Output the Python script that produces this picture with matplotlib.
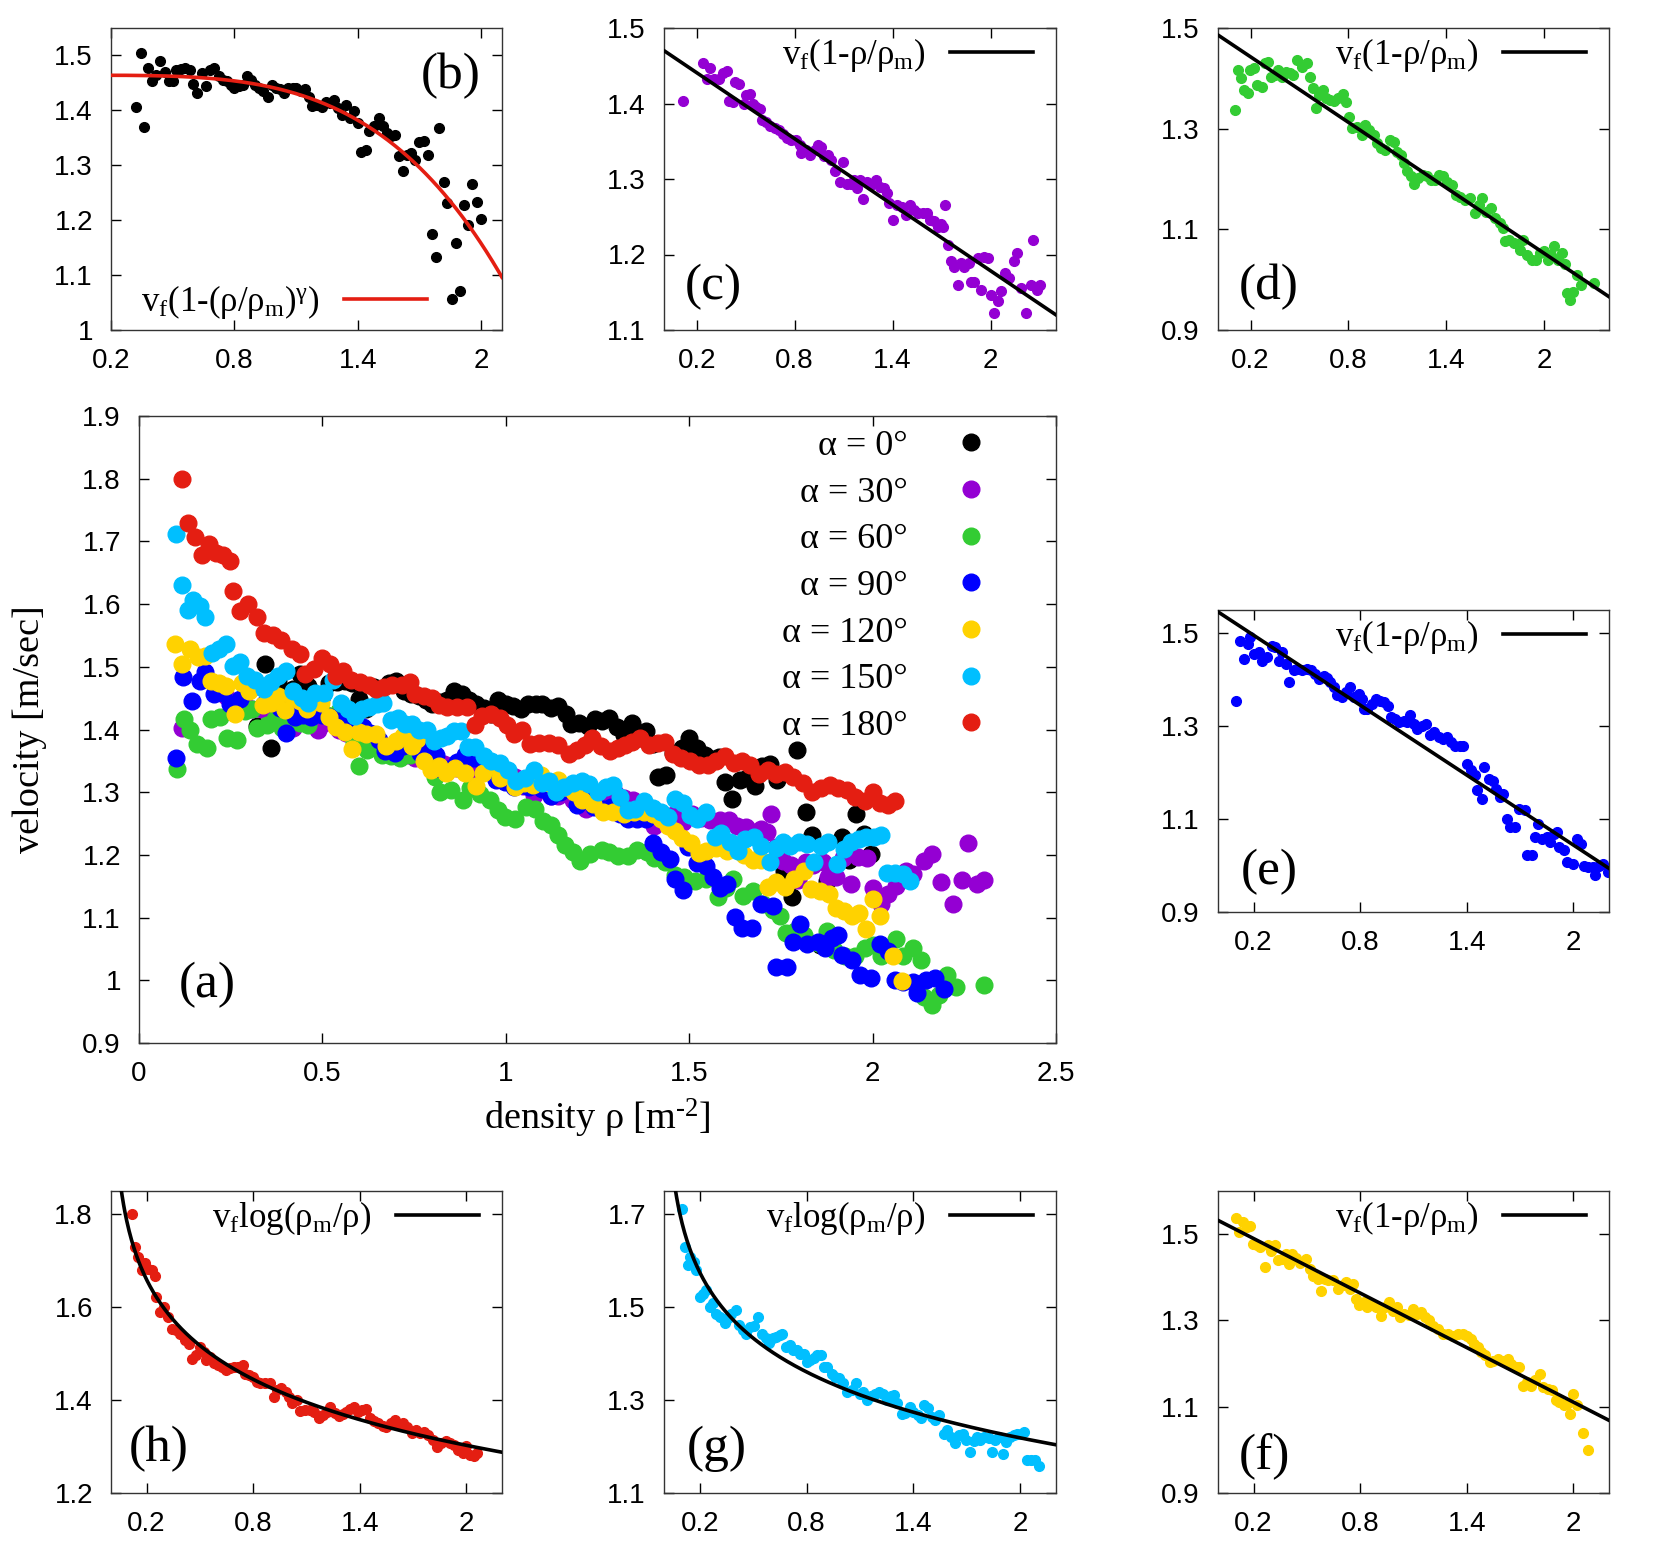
import numpy as np
import matplotlib
matplotlib.use("Agg")
import matplotlib.pyplot as plt
from matplotlib.ticker import FuncFormatter

plt.rcParams['font.family'] = ['Liberation Sans', 'DejaVu Sans']
plt.rcParams['mathtext.fontset'] = 'custom'
plt.rcParams['mathtext.rm'] = 'Liberation Serif'
plt.rcParams['mathtext.it'] = 'Liberation Serif:italic'

# ---- data: density [m^-2] and velocity [m/s] for each angle ----
rho_0 = [0.323, 0.344, 0.36, 0.379, 0.40, 0.419, 0.44, 0.46, 0.48, 0.50, 0.518, 0.54, 0.561, 0.582, 0.60,
         0.62, 0.642, 0.661, 0.682, 0.70, 0.723, 0.742, 0.763, 0.782, 0.80, 0.82, 0.84, 0.86, 0.88, 0.90,
         0.92, 0.94, 0.961, 0.98, 1.00, 1.02, 1.042, 1.061, 1.082, 1.10, 1.122, 1.142, 1.163, 1.179, 1.20,
         1.223, 1.244, 1.263, 1.282, 1.303, 1.323, 1.344, 1.36, 1.381, 1.40, 1.416, 1.437, 1.456, 1.48, 1.50,
         1.521, 1.542, 1.561, 1.582, 1.598, 1.618, 1.639, 1.658, 1.679, 1.698, 1.719, 1.739, 1.758, 1.779,
         1.795, 1.819, 1.835, 1.856, 1.876, 1.897, 1.916, 1.937, 1.956, 1.977, 1.997]
v_0 = [1.406, 1.504, 1.370, 1.477, 1.453, 1.465, 1.489, 1.469, 1.453, 1.453, 1.474, 1.475, 1.478, 1.474, 1.448,
       1.432, 1.468, 1.445, 1.474, 1.477, 1.462, 1.456, 1.453, 1.447, 1.441, 1.444, 1.447, 1.462, 1.456, 1.447,
       1.441, 1.435, 1.424, 1.447, 1.441, 1.438, 1.432, 1.441, 1.441, 1.441, 1.435, 1.438, 1.425, 1.408, 1.410,
       1.406, 1.416, 1.413, 1.419, 1.404, 1.392, 1.410, 1.386, 1.398, 1.377, 1.325, 1.328, 1.362, 1.371, 1.386,
       1.371, 1.359, 1.353, 1.356, 1.316, 1.289, 1.319, 1.322, 1.310, 1.342, 1.345, 1.319, 1.174, 1.133,
       1.367, 1.269, 1.232, 1.057, 1.158, 1.071, 1.228, 1.192, 1.265, 1.233, 1.202]

rho_30 = [0.118, 0.237, 0.261, 0.284, 0.308, 0.335, 0.36, 0.384, 0.40, 0.421, 0.437, 0.462, 0.487, 0.503, 0.524,
          0.544, 0.564, 0.585, 0.601, 0.626, 0.65, 0.677, 0.702, 0.728, 0.753, 0.78, 0.806, 0.831, 0.841, 0.868,
          0.896, 0.923, 0.943, 0.964, 0.978, 1.005, 1.025, 1.046, 1.076, 1.097, 1.122, 1.142, 1.162, 1.183, 1.203,
          1.22, 1.24, 1.265, 1.298, 1.322, 1.347, 1.367, 1.38, 1.404, 1.425, 1.455, 1.482, 1.507, 1.531, 1.558,
          1.584, 1.609, 1.63, 1.654, 1.675, 1.695, 1.711, 1.722, 1.738, 1.756, 1.777, 1.797, 1.818, 1.838, 1.865,
          1.879, 1.90, 1.92, 1.941, 1.961, 1.984, 2.002, 2.023, 2.043, 2.064, 2.09, 2.111, 2.141, 2.162, 2.186,
          2.219, 2.244, 2.26, 2.285, 2.305]
v_30 = [1.403, 1.453, 1.433, 1.447, 1.433, 1.433, 1.441, 1.443, 1.403, 1.402, 1.429, 1.426, 1.400, 1.411, 1.413,
        1.400, 1.395, 1.393, 1.378, 1.376, 1.370, 1.367, 1.365, 1.360, 1.354, 1.352, 1.352, 1.345, 1.334, 1.338,
        1.332, 1.338, 1.345, 1.343, 1.330, 1.332, 1.325, 1.310, 1.296, 1.323, 1.294, 1.294, 1.299, 1.288, 1.299,
        1.274, 1.296, 1.292, 1.299, 1.290, 1.288, 1.281, 1.268, 1.246, 1.266, 1.263, 1.252, 1.266, 1.259, 1.255,
        1.255, 1.255, 1.246, 1.244, 1.237, 1.241, 1.237, 1.266, 1.213, 1.191, 1.184, 1.160, 1.189, 1.184, 1.189,
        1.164, 1.164, 1.195, 1.153, 1.197, 1.195, 1.147, 1.122, 1.138, 1.151, 1.175, 1.169, 1.191, 1.202, 1.156,
        1.122, 1.160, 1.219, 1.153, 1.160]

rho_60 = [0.104, 0.124, 0.139, 0.159, 0.186, 0.196, 0.22, 0.241, 0.268, 0.288, 0.309, 0.323, 0.349, 0.37, 0.39,
          0.416, 0.44, 0.46, 0.487, 0.513, 0.544, 0.565, 0.585, 0.601, 0.622, 0.646, 0.663, 0.687, 0.712, 0.739,
          0.765, 0.786, 0.806, 0.82, 0.851, 0.882, 0.902, 0.929, 0.958, 0.978, 0.999, 1.025, 1.056, 1.08, 1.101,
          1.122, 1.142, 1.162, 1.183, 1.203, 1.23, 1.261, 1.281, 1.306, 1.332, 1.359, 1.384, 1.404, 1.435, 1.461,
          1.486, 1.517, 1.547, 1.578, 1.599, 1.619, 1.646, 1.674, 1.701, 1.728, 1.748, 1.763, 1.789, 1.814, 1.851,
          1.875, 1.896, 1.926, 1.953, 1.978, 2.002, 2.023, 2.043, 2.064, 2.084, 2.111, 2.131, 2.141, 2.162, 2.182,
          2.203, 2.227, 2.305]
v_60 = [1.337, 1.417, 1.400, 1.377, 1.370, 1.417, 1.420, 1.387, 1.383, 1.430, 1.433, 1.403, 1.407, 1.417, 1.403,
        1.413, 1.410, 1.407, 1.436, 1.423, 1.430, 1.403, 1.380, 1.342, 1.367, 1.377, 1.360, 1.357, 1.354, 1.360,
        1.369, 1.352, 1.324, 1.301, 1.304, 1.287, 1.307, 1.297, 1.287, 1.271, 1.261, 1.258, 1.277, 1.274, 1.254,
        1.248, 1.231, 1.215, 1.205, 1.190, 1.201, 1.208, 1.205, 1.198, 1.198, 1.208, 1.205, 1.195, 1.188, 1.168,
        1.165, 1.158, 1.162, 1.133, 1.148, 1.162, 1.135, 1.142, 1.122, 1.112, 1.102, 1.076, 1.079, 1.072, 1.059,
        1.079, 1.049, 1.039, 1.039, 1.052, 1.056, 1.039, 1.049, 1.066, 1.039, 1.052, 1.032, 0.973, 0.960, 0.976,
        1.009, 0.989, 0.993]

rho_90 = [0.102, 0.121, 0.144, 0.166, 0.181, 0.204, 0.228, 0.247, 0.275, 0.303, 0.322, 0.341, 0.359, 0.384, 0.402,
          0.425, 0.447, 0.47, 0.499, 0.521, 0.546, 0.571, 0.594, 0.612, 0.631, 0.654, 0.672, 0.697, 0.721, 0.744,
          0.766, 0.791, 0.809, 0.823, 0.841, 0.866, 0.89, 0.913, 0.935, 0.959, 0.973, 0.997, 1.021, 1.044, 1.062,
          1.081, 1.10, 1.122, 1.147, 1.171, 1.194, 1.216, 1.241, 1.265, 1.288, 1.31, 1.334, 1.359, 1.381, 1.40,
          1.423, 1.447, 1.46, 1.484, 1.498, 1.522, 1.546, 1.565, 1.584, 1.602, 1.625, 1.644, 1.672, 1.696, 1.728,
          1.738, 1.766, 1.784, 1.803, 1.822, 1.85, 1.869, 1.888, 1.906, 1.916, 1.944, 1.966, 1.996, 2.019, 2.041,
          2.06, 2.084, 2.109, 2.122, 2.146, 2.169, 2.196]
v_90 = [1.355, 1.484, 1.445, 1.477, 1.491, 1.456, 1.459, 1.441, 1.448, 1.473, 1.470, 1.441, 1.459, 1.434, 1.395,
        1.420, 1.423, 1.420, 1.423, 1.420, 1.413, 1.402, 1.409, 1.404, 1.395, 1.384, 1.366, 1.362, 1.373, 1.384,
        1.362, 1.370, 1.359, 1.337, 1.337, 1.348, 1.359, 1.355, 1.352, 1.344, 1.319, 1.316, 1.309, 1.312, 1.309,
        1.323, 1.305, 1.294, 1.301, 1.305, 1.280, 1.287, 1.276, 1.273, 1.276, 1.266, 1.258, 1.258, 1.258, 1.219,
        1.205, 1.194, 1.162, 1.144, 1.212, 1.187, 1.183, 1.165, 1.147, 1.154, 1.101, 1.083, 1.083, 1.122, 1.119,
        1.022, 1.022, 1.061, 1.090, 1.058, 1.061, 1.051, 1.068, 1.072, 1.040, 1.033, 1.008, 1.004, 1.058, 1.047,
        1.000, 0.997, 0.997, 0.979, 1.000, 1.004, 0.986]

rho_120 = [0.099, 0.117, 0.14, 0.161, 0.181, 0.196, 0.219, 0.237, 0.262, 0.281, 0.299, 0.318, 0.337, 0.361, 0.38,
           0.399, 0.417, 0.44, 0.459, 0.496, 0.519, 0.537, 0.562, 0.581, 0.60, 0.618, 0.646, 0.674, 0.702, 0.721,
           0.744, 0.759, 0.777, 0.796, 0.819, 0.837, 0.862, 0.89, 0.918, 0.937, 0.961, 0.984, 1.006, 1.025, 1.049,
           1.074, 1.096, 1.119, 1.143, 1.162, 1.186, 1.209, 1.237, 1.265, 1.293, 1.321, 1.349, 1.378, 1.40, 1.424,
           1.443, 1.462, 1.481, 1.505, 1.528, 1.546, 1.574, 1.603, 1.631, 1.649, 1.674, 1.696, 1.715, 1.738, 1.762,
           1.786, 1.813, 1.831, 1.856, 1.88, 1.899, 1.921, 1.944, 1.963, 1.981, 2.00, 2.019, 2.056, 2.081]
v_120 = [1.537, 1.505, 1.528, 1.516, 1.518, 1.478, 1.474, 1.470, 1.425, 1.474, 1.462, 1.474, 1.439, 1.443, 1.454,
         1.431, 1.454, 1.445, 1.433, 1.443, 1.420, 1.404, 1.396, 1.369, 1.396, 1.393, 1.393, 1.373, 1.381, 1.389,
         1.373, 1.385, 1.350, 1.335, 1.342, 1.331, 1.339, 1.331, 1.310, 1.331, 1.342, 1.323, 1.331, 1.308, 1.315,
         1.312, 1.327, 1.315, 1.319, 1.309, 1.300, 1.288, 1.281, 1.269, 1.269, 1.265, 1.269, 1.269, 1.265, 1.258,
         1.246, 1.238, 1.227, 1.219, 1.203, 1.207, 1.211, 1.207, 1.211, 1.200, 1.192, 1.192, 1.149, 1.157, 1.149,
         1.161, 1.175, 1.146, 1.142, 1.138, 1.115, 1.111, 1.103, 1.107, 1.082, 1.130, 1.103, 1.039, 0.999]

rho_150 = [0.102, 0.116, 0.134, 0.147, 0.166, 0.181, 0.20, 0.219, 0.237, 0.256, 0.275, 0.294, 0.316, 0.341, 0.359,
           0.378, 0.402, 0.421, 0.444, 0.462, 0.481, 0.504, 0.528, 0.552, 0.571, 0.59, 0.609, 0.627, 0.65, 0.665,
           0.687, 0.706, 0.725, 0.744, 0.762, 0.785, 0.804, 0.822, 0.841, 0.86, 0.879, 0.898, 0.916, 0.941, 0.959,
           0.984, 1.006, 1.029, 1.053, 1.078, 1.10, 1.119, 1.138, 1.16, 1.184, 1.209, 1.228, 1.25, 1.272, 1.291,
           1.31, 1.334, 1.353, 1.378, 1.40, 1.423, 1.441, 1.46, 1.484, 1.503, 1.522, 1.546, 1.569, 1.588, 1.61,
           1.634, 1.653, 1.678, 1.696, 1.719, 1.738, 1.756, 1.775, 1.798, 1.822, 1.841, 1.859, 1.878, 1.903, 1.921,
           1.94, 1.963, 1.981, 2.004, 2.023, 2.038, 2.06, 2.084, 2.103]
v_150 = [1.712, 1.630, 1.590, 1.607, 1.597, 1.580, 1.522, 1.529, 1.537, 1.501, 1.508, 1.486, 1.479, 1.465, 1.476,
         1.485, 1.494, 1.461, 1.451, 1.443, 1.458, 1.459, 1.479, 1.443, 1.433, 1.422, 1.433, 1.436, 1.440, 1.443,
         1.415, 1.418, 1.408, 1.408, 1.400, 1.400, 1.382, 1.386, 1.390, 1.397, 1.397, 1.372, 1.372, 1.357, 1.350,
         1.347, 1.336, 1.318, 1.322, 1.336, 1.314, 1.318, 1.300, 1.309, 1.314, 1.318, 1.313, 1.300, 1.309, 1.311,
         1.293, 1.271, 1.273, 1.286, 1.275, 1.268, 1.261, 1.289, 1.282, 1.264, 1.257, 1.268, 1.228, 1.235, 1.221,
         1.207, 1.225, 1.228, 1.214, 1.189, 1.211, 1.221, 1.214, 1.221, 1.218, 1.189, 1.214, 1.221, 1.185, 1.210,
         1.221, 1.225, 1.228, 1.228, 1.232, 1.171, 1.171, 1.170, 1.158]

rho_180 = [0.116, 0.134, 0.153, 0.172, 0.191, 0.209, 0.228, 0.247, 0.256, 0.275, 0.297, 0.322, 0.341, 0.365, 0.387,
           0.416, 0.44, 0.453, 0.477, 0.50, 0.522, 0.537, 0.556, 0.579, 0.603, 0.627, 0.646, 0.669, 0.691, 0.716,
           0.74, 0.753, 0.778, 0.80, 0.819, 0.841, 0.866, 0.894, 0.916, 0.935, 0.959, 0.984, 1.003, 1.021, 1.044,
           1.066, 1.091, 1.119, 1.141, 1.171, 1.194, 1.216, 1.235, 1.259, 1.284, 1.306, 1.325, 1.344, 1.366, 1.391,
           1.415, 1.434, 1.456, 1.479, 1.503, 1.528, 1.55, 1.573, 1.597, 1.621, 1.644, 1.666, 1.691, 1.715, 1.738,
           1.76, 1.784, 1.809, 1.835, 1.859, 1.884, 1.906, 1.929, 1.953, 1.978, 2.00, 2.019, 2.041, 2.06]
v_180 = [1.800, 1.729, 1.707, 1.679, 1.696, 1.682, 1.679, 1.668, 1.621, 1.589, 1.600, 1.579, 1.554, 1.551, 1.543,
         1.529, 1.521, 1.489, 1.496, 1.514, 1.504, 1.486, 1.493, 1.479, 1.475, 1.471, 1.464, 1.468, 1.471, 1.471,
         1.475, 1.457, 1.454, 1.450, 1.439, 1.436, 1.436, 1.436, 1.407, 1.421, 1.425, 1.418, 1.407, 1.393, 1.400,
         1.377, 1.379, 1.379, 1.375, 1.361, 1.368, 1.375, 1.386, 1.373, 1.366, 1.371, 1.375, 1.380, 1.386, 1.375,
         1.379, 1.380, 1.361, 1.354, 1.350, 1.344, 1.343, 1.350, 1.357, 1.346, 1.350, 1.343, 1.329, 1.336, 1.329,
         1.332, 1.325, 1.314, 1.300, 1.307, 1.311, 1.307, 1.304, 1.293, 1.286, 1.301, 1.282, 1.279, 1.286]

angle_labels = ['α = 0°', 'α = 30°', 'α = 60°', 'α = 90°', 'α = 120°', 'α = 150°', 'α = 180°']
colors = ['#000000', '#9400d3', '#33cc33', '#0000ff', '#ffd200', '#00bfff', '#e41e12']

# fit parameters
fit_b = (1.464, 3.05, 3.7)      # vf, rho_m, gamma
fit_c = (1.47, 10.08)           # vf, rho_m  (linear)
fit_d = (1.486, 6.86)
fit_e = (1.546, 6.16)
fit_f = (1.532, 7.27)
fit_g = (0.155, np.exp(1.326 / 0.155))   # vf, rho_m (log)
fit_h = (0.155, np.exp(1.41 / 0.155))

series = [(rho_0, v_0), (rho_30, v_30), (rho_60, v_60), (rho_90, v_90),
          (rho_120, v_120), (rho_150, v_150), (rho_180, v_180)]

SERIF = 'Liberation Serif'
W, H = 1661, 1550
fig = plt.figure(figsize=(W / 100, H / 100), dpi=100)


def box(x0, y0, x1, y1):
    # pixel box (top-left origin) -> figure fraction
    return [x0 / W, 1 - y1 / H, (x1 - x0) / W, (y1 - y0) / H]


def style(ax):
    ax.tick_params(direction='in', top=True, right=True, length=7, width=1,
                   labelsize=20, colors='black')
    ax.tick_params(axis='x', pad=13)
    ax.tick_params(axis='y', pad=13)
    fmt = FuncFormatter(lambda v, p: '%g' % round(v, 3))
    ax.xaxis.set_major_formatter(fmt)
    ax.yaxis.set_major_formatter(fmt)
    for s in ax.spines.values():
        s.set_linewidth(1.0)
        s.set_color('#333333')


# ---- main panel (a) ----
ax = fig.add_axes(box(139, 416, 1056, 1043))
handles = []
for (r, v), c, lab in zip(series, colors, angle_labels):
    h, = ax.plot(r, v, 'o', ms=12, color=c, mec=c, label=lab)
    handles.append(h)
ax.set_xlim(0, 2.5)
ax.set_ylim(0.9, 1.9)
ax.set_xticks([0, 0.5, 1, 1.5, 2, 2.5])
ax.set_yticks([0.9, 1.0, 1.1, 1.2, 1.3, 1.4, 1.5, 1.6, 1.7, 1.8, 1.9])
style(ax)
fig.text(597 / W, 1 - 1130 / H, 'density ρ [m$^{\\mathrm{‐2}}$]', fontsize=27.5, family=SERIF,
         ha='center', va='baseline')
fig.text(30 / W, 1 - 729.5 / H, 'velocity [m/sec]', fontsize=27.5, family=SERIF,
         ha='center', va='center', rotation=90)
ax.legend(handles=handles, loc='upper right', bbox_to_anchor=(0.941, 0.978), borderaxespad=0,
          borderpad=0, frameon=False, markerfirst=False, handlelength=1.7, handletextpad=0.9,
          labelspacing=0.37, prop={'family': SERIF, 'size': 26})
ax.text(0.074, 0.093, '(a)', transform=ax.transAxes, fontsize=37, family=SERIF,
        ha='center', va='center')

# ---- small panels ----
xs = [0.2, 0.8, 1.4, 2.0]
lin_lab = 'v$_{\\mathrm{f}}$(1-ρ/ρ$_{\\mathrm{m}}$)'
log_lab = 'v$_{\\mathrm{f}}$log(ρ$_{\\mathrm{m}}$/ρ)'


def small(pos, idx, xlim, ylim, yt, tag, tagpos, kind, pars, leg_loc='upper right',
          leg_anchor=(0.941, 0.973)):
    a = fig.add_axes(box(*pos))
    r, v = series[idx]
    a.plot(r, v, 'o', ms=7, color=colors[idx], mec=colors[idx], zorder=2)
    xx = np.linspace(0.005, xlim[1], 500)
    if kind == 'lin':
        vf, rm = pars
        yy = vf * (1 - xx / rm)
        lab = lin_lab
    elif kind == 'log':
        vf, rm = pars
        yy = vf * np.log(rm / xx)
        lab = log_lab
    else:
        vf, rm, g = pars
        yy = vf * (1 - (xx / rm) ** g)
        lab = 'v$_{\\mathrm{f}}$(1-(ρ/ρ$_{\\mathrm{m}}$)$^{\\mathrm{γ}}$)'
    lc = '#e41e12' if kind == 'pow' else 'black'
    a.plot(xx, yy, '-', color=lc, lw=2.6, label=lab, zorder=3)
    a.set_xlim(*xlim)
    a.set_ylim(*ylim)
    a.set_xticks(xs)
    a.set_yticks(yt)
    style(a)
    a.legend(loc=leg_loc, bbox_to_anchor=leg_anchor, borderaxespad=0, borderpad=0,
             frameon=False, markerfirst=False, handlelength=2.4, handletextpad=0.7,
             prop={'family': SERIF, 'size': 25})
    a.text(tagpos[0], tagpos[1], tag, transform=a.transAxes, fontsize=37, family=SERIF,
           ha='center', va='center')
    return a


small((111, 28, 502, 330), 0, (0.2, 2.1), (1.0, 1.55), [1.0, 1.1, 1.2, 1.3, 1.4, 1.5],
      '(b)', (0.87, 0.84), 'pow', fit_b, leg_loc='lower left', leg_anchor=(0.077, 0.03))
small((664, 28, 1056, 330), 1, (0.0, 2.4), (1.1, 1.5), [1.1, 1.2, 1.3, 1.4, 1.5],
      '(c)', (0.125, 0.142), 'lin', fit_c)
small((1218, 28, 1609, 330), 2, (0.0, 2.4), (0.9, 1.5), [0.9, 1.1, 1.3, 1.5],
      '(d)', (0.13, 0.142), 'lin', fit_d)
small((1218, 610, 1609, 912), 3, (0.0, 2.2), (0.9, 1.55), [0.9, 1.1, 1.3, 1.5],
      '(e)', (0.13, 0.132), 'lin', fit_e)
small((111, 1191, 502, 1493), 6, (0.0, 2.2), (1.2, 1.85), [1.2, 1.4, 1.6, 1.8],
      '(h)', (0.123, 0.145), 'log', fit_h)
small((664, 1191, 1056, 1493), 5, (0.0, 2.2), (1.1, 1.75), [1.1, 1.3, 1.5, 1.7],
      '(g)', (0.135, 0.145), 'log', fit_g)
small((1218, 1191, 1609, 1493), 4, (0.0, 2.2), (0.9, 1.6), [0.9, 1.1, 1.3, 1.5],
      '(f)', (0.12, 0.12), 'lin', fit_f)

fig.savefig('out.png', dpi=100)
